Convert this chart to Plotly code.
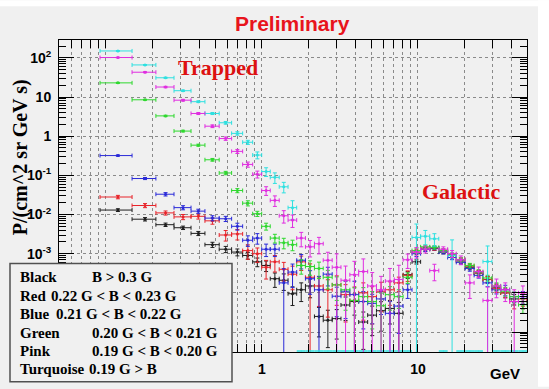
import plotly.graph_objects as go

# ---------------- data ----------------
# bin edges in GeV (40 bins)
edges = [0.0916, 0.147, 0.209, 0.273, 0.351, 0.431, 0.532, 0.639, 0.752, 0.872,
         0.996, 1.13, 1.29, 1.47, 1.67, 1.90, 2.17, 2.47, 2.82, 3.21,
         3.66, 4.17, 4.76, 5.42, 6.18, 7.05, 8.03, 9.16, 10.4, 11.9,
         13.6, 15.5, 17.6, 20.1, 22.9, 26.1, 29.8, 33.9, 38.7, 44.1, 50.0]

black = [0.013, 0.0076, 0.0055, 0.0046, 0.0033, 0.0017, 0.0013, 0.0011, 9e-4, 6.2e-4,
         5e-4, 2.3e-4, 2.1e-4, 9.5e-5, 1.2e-4, 1.5e-4, 2.5e-5, 2e-5, 2.2e-5, 4.9e-5,
         6e-5, 1.8e-5, 2.7e-5, 3.5e-5, 4e-5, 3e-5, 2.9e-4, 6.2e-4, 1.3e-3, 1.35e-3,
         1.1e-3, 9e-4, 6.5e-4, 4.5e-4, 3.2e-4, 2.2e-4, 1.4e-4, 1e-4, 7e-5, 6e-5]
black_rel = [0.08, 0.1, 0.1, 0.1, 0.12, 0.15, 0.18, 0.2, 0.2, 0.25,
             0.3, 0.4, 0.45, 0.5, 0.5, 0.5, 0.7, 0.8, 0.7, 0.6,
             0.55, 0.8, 0.7, 0.7, 0.6, 0.9, 0.2, 0.12, 0.1, 0.1,
             0.1, 0.12, 0.12, 0.14, 0.15, 0.18, 0.2, 0.25, 0.3, 0.35]

red = [0.028, 0.017, 0.011, 0.0087, 0.009, 0.0069, 0.003, 0.0032, 0.0012, 0.001,
       4.5e-4, 6.2e-4, 4e-4, 3e-4, 6.2e-4, 2.5e-4, 1.5e-4, 1.2e-4, 1.6e-4, 9e-5,
       6.4e-5, 1e-4, 8e-5, 1.1e-4, 1.2e-4, 1.8e-4, 2.8e-4, 1.1e-3, 1.4e-3, 1.35e-3,
       1.2e-3, 9e-4, 7e-4, 4.8e-4, 3.2e-4, 2.2e-4, 1.3e-4, 1e-4, 6e-5, 7e-5]
red_rel = [0.1, 0.12, 0.12, 0.15, 0.15, 0.18, 0.3, 0.3, 0.4, 0.4,
           0.5, 0.45, 0.5, 0.6, 0.4, 1.2, 0.7, 0.8, 0.7, 0.8,
           1.2, 0.8, 0.8, 0.7, 0.6, 0.4, 0.3, 0.15, 0.1, 0.1,
           0.1, 0.12, 0.12, 0.14, 0.15, 0.18, 0.22, 0.25, 0.35, 0.35]

blue = [0.32, 0.083, 0.033, 0.015, 0.0122, 0.0081, 0.0078, 0.005, 0.0022, 0.0025,
        0.0013, 0.0013, 1.8e-4, 3.4e-4, 6.8e-4, 2.3e-4, 1.2e-4, 3e-4, 8.2e-5, 1.1e-4,
        9e-5, 6e-5, 5.4e-5, 7e-5, 3e-5, 4.6e-5, 1.2e-4, 1.0e-3, 1.3e-3, 1.4e-3,
        1.1e-3, 8e-4, 6e-4, 4.2e-4, 2.8e-4, 1.8e-4, 1.2e-4, 1.2e-4, 8e-5, 8e-5]
blue_rel = [0.04, 0.06, 0.1, 0.12, 0.12, 0.15, 0.15, 0.2, 0.3, 0.3,
            0.35, 0.35, 1.3, 0.6, 0.4, 0.6, 1.2, 0.5, 0.7, 0.8,
            1.2, 0.8, 0.7, 0.6, 1.0, 0.8, 0.4, 0.15, 0.12, 0.1,
            0.1, 0.12, 0.12, 0.15, 0.15, 0.2, 0.22, 0.3, 0.3, 0.35]

green = [23, 8.5, 3.3, 1.35, 0.59, 0.25, 0.115, 0.041, 0.0195, 0.0105,
         0.005, 0.0025, 0.0019, 0.0017, 5e-4, 4.7e-4, 4.2e-4, 2.5e-4, 1.6e-4, 1.2e-4,
         6.4e-5, 8e-5, 6e-5, 4.7e-5, 9e-5, 8e-5, 2.5e-4, 1.2e-3, 1.5e-3, 1.45e-3,
         1.2e-3, 9.5e-4, 7e-4, 5e-4, 3.4e-4, 2.4e-4, 1.5e-4, 1.1e-4, 8e-5, 5e-5]
green_rel = [0.03, 0.03, 0.04, 0.05, 0.06, 0.08, 0.1, 0.12, 0.15, 0.15,
             0.2, 0.25, 0.3, 0.3, 0.4, 0.4, 0.45, 0.5, 0.6, 0.7,
             1.1, 0.7, 0.8, 1.1, 0.6, 0.5, 0.3, 0.15, 0.1, 0.1,
             0.1, 0.1, 0.12, 0.13, 0.15, 0.17, 0.2, 0.25, 0.3, 0.4]

pink = [102, 43, 18, 8.3, 3.8, 1.8, 0.87, 0.41, 0.19, 0.107,
        0.041, 0.023, 0.0093, 0.0072, 0.0025, 0.0015, 0.0018, 6.8e-4, 4.5e-4, 2.1e-4,
        2.9e-4, 3.5e-4, 1.5e-4, 1.2e-4, 2e-4, 2.2e-4, 7e-4, 1.1e-3, 1.3e-3, 3.7e-4,
        1.3e-3, 1.0e-3, 7e-4, 1.8e-4, 3.5e-4, 6.4e-5, 1.5e-4, 1.2e-4, 6e-5, 1e-4]
pink_rel = [0.02, 0.03, 0.04, 0.05, 0.06, 0.08, 0.1, 0.12, 0.15, 0.2,
            0.25, 0.3, 0.35, 0.35, 0.4, 0.45, 0.45, 0.6, 1.2, 1.3,
            1.2, 1.1, 1.2, 1.2, 1.1, 1.3, 0.4, 0.3, 0.2, 0.45,
            0.15, 0.2, 0.25, 0.6, 0.3, 1.2, 0.5, 0.5, 1.0, 0.5]

turquoise = [150, 66, 31, 14.5, 7.6, 3.8, 2.2, 1.18, 0.7, 0.33,
             0.125, 0.089, 0.051, 0.015, 0, 0, 0, 0, 0, 0,
             0, 0, 0, 0, 0, 0, 0, 2.6e-3, 2.8e-3, 2.4e-3,
             0, 9e-4, 0, 0, 0, 6.3e-4, 0, 0, 0, 0]
turquoise_rel = [0.02, 0.02, 0.03, 0.04, 0.05, 0.06, 0.08, 0.1, 0.12, 0.2,
                 0.25, 0.3, 0.3, 0.5, 0, 0, 0, 0, 0, 0,
                 0, 0, 0, 0, 0, 0, 0, 1.2, 0.4, 0.35,
                 0, 1.5, 0, 0, 0, 1.5, 0, 0, 0, 0]

legend_names = ["Black", "Red", "Blue", "Green", "Pink", "Turquoise"]
legend_conds = ["B > 0.3 G", "0.22 G < B < 0.23 G", "0.21 G < B < 0.22 G",
                "0.20 G < B < 0.21 G", "0.19 G < B < 0.20 G", "0.19 G > B"]

# ---------------- styling ----------------
BG = "#f0f0f0"
colors = {"Black": "#1e1e1e", "Red": "#e8242a", "Blue": "#2a2ad8", "Green": "#2ed82e",
          "Pink": "#e02ee0", "Turquoise": "#2ee0e0"}
YLOG0, YLOG1 = -5.51, 2.456
ymin = 10 ** YLOG0

L, R, T, B = 59, 22, 40, 35
W, H = 549, 389
PW, PH = W - L - R, H - T - B


def px2paper(px, py):
    return (px - L) / PW, (H - B - py) / PH


centers = [(edges[i] + edges[i + 1]) / 2 for i in range(len(edges) - 1)]
halfw = [(edges[i + 1] - edges[i]) / 2 for i in range(len(edges) - 1)]

fig = go.Figure()

series = [("Black", black, black_rel), ("Red", red, red_rel), ("Blue", blue, blue_rel),
          ("Green", green, green_rel), ("Turquoise", turquoise, turquoise_rel),
          ("Pink", pink, pink_rel)]

for name, vals, rel in series:
    col = colors[name]
    xs, ys, xe, ep, em = [], [], [], [], []
    zx, zxe = [], []
    for i, v in enumerate(vals):
        if v > 0:
            e = v * rel[i]
            xs.append(centers[i]); ys.append(v); xe.append(halfw[i]); ep.append(e)
            em.append(e if v - e > ymin else v - ymin * 0.7)
        else:
            zx.append(centers[i]); zxe.append(halfw[i])
    fig.add_trace(go.Scatter(
        x=xs, y=ys, mode="markers", name=name, showlegend=False,
        marker=dict(size=3, color=col),
        error_x=dict(type="data", array=xe, symmetric=True, color=col, thickness=1, width=2),
        error_y=dict(type="data", array=ep, arrayminus=em, symmetric=False,
                     color=col, thickness=1, width=2)))
    if zx:
        fig.add_trace(go.Scatter(
            x=zx, y=[10 ** (YLOG0 + 0.025)] * len(zx), mode="markers", showlegend=False,
            marker=dict(size=1, color=col), cliponaxis=False,
            error_x=dict(type="data", array=zxe, symmetric=True, color=col, thickness=1.5, width=0)))

# axes
xmaj = []
for dec in [0.01, 0.1, 1, 10]:
    for k in range(1, 10):
        v = round(k * dec, 4)
        if 0.05 <= v <= 50:
            xmaj.append(v)
xtext = ["1" if v == 1 else ("10" if v == 10 else "") for v in xmaj]

ydec = [1e-5, 1e-4, 1e-3, 1e-2, 1e-1, 1, 10, 100]
ytext = ["", "", "10<sup>-3</sup>", "10<sup>-2</sup>", "10<sup>-1</sup>", "1", "10", "10<sup>2</sup>"]
yminor = [k * d for d in [1e-6, 1e-5, 1e-4, 1e-3, 1e-2, 1e-1, 1, 10, 100] for k in range(2, 10)]

tickfont = dict(family="Liberation Sans", size=14, color="black", weight="bold")

fig.update_xaxes(type="log", range=[-1.30103, 1.69897], tickmode="array", tickvals=xmaj,
                 ticktext=xtext, ticks="inside", ticklen=8, tickcolor="black",
                 showgrid=True, gridcolor="#8a8a8a", griddash="dot", gridwidth=1,
                 showline=True, linecolor="black", linewidth=1, mirror="allticks",
                 zeroline=False, tickfont=tickfont, ticklabelstandoff=4)
fig.update_yaxes(type="log", range=[YLOG0, YLOG1], tickmode="array", tickvals=ydec,
                 ticktext=ytext, ticks="inside", ticklen=15, tickcolor="black",
                 showgrid=True, gridcolor="#8a8a8a", griddash="dot", gridwidth=1,
                 showline=True, linecolor="black", linewidth=1, mirror="allticks",
                 zeroline=False, tickfont=tickfont, ticklabelstandoff=4,
                 minor=dict(tickmode="array", tickvals=yminor, ticks="inside", ticklen=7,
                            tickcolor="black", showgrid=False))

ann = []


def add_text(text, px, py, size, color, family, xanchor="center", yanchor="middle", angle=0):
    x, y = px2paper(px, py)
    ann.append(dict(text=text, x=x, y=y, xref="paper", yref="paper", showarrow=False,
                    xanchor=xanchor, yanchor=yanchor, textangle=angle,
                    font=dict(family=family, size=size, color=color, weight="bold")))


add_text("Preliminary", 292, 23, 21, "#e8141c", "Liberation Sans")
add_text("Trapped", 218, 68, 22, "#dd1111", "Liberation Serif")
add_text("Galactic", 461, 192, 22, "#dd1111", "Liberation Serif")
add_text("GeV", 505, 376, 15, "black", "Liberation Sans")
add_text("P/(cm^2 sr GeV s)", 20, 158, 20, "black", "Liberation Serif", angle=-90)

ly = [279, 297.5, 316, 334.5, 353, 371.5]
cond_x = [90, 49, 54, 90, 90, 87]
for i in range(6):
    add_text(legend_names[i], 18, ly[i], 15, "black", "Liberation Serif", xanchor="left")
    add_text(legend_conds[i], cond_x[i], ly[i], 15, "black", "Liberation Serif", xanchor="left")

shapes = []
# legend box
x0, y0 = px2paper(10, 384)
x1, y1 = px2paper(232, 265)
shapes.append(dict(type="rect", xref="paper", yref="paper", x0=x0, y0=y0, x1=x1, y1=y1,
                   fillcolor=BG, line=dict(color="#505050", width=1.5), layer="above"))
# white page strips around the grey canvas
a0, b0 = px2paper(0, 6)
a1, b1 = px2paper(W, 0)
shapes.append(dict(type="rect", xref="paper", yref="paper", x0=a0, y0=b0, x1=a1, y1=b1,
                   fillcolor="white", line=dict(width=0), layer="below"))
a0, b0 = px2paper(538, H)
a1, b1 = px2paper(W, 0)
shapes.append(dict(type="rect", xref="paper", yref="paper", x0=a0, y0=b0, x1=a1, y1=b1,
                   fillcolor="white", line=dict(width=0), layer="below"))

fig.update_layout(width=W, height=H, margin=dict(l=L, r=R, t=T, b=B),
                  paper_bgcolor=BG, plot_bgcolor=BG, annotations=ann, shapes=shapes,
                  showlegend=False)

fig.write_html("out.html")
